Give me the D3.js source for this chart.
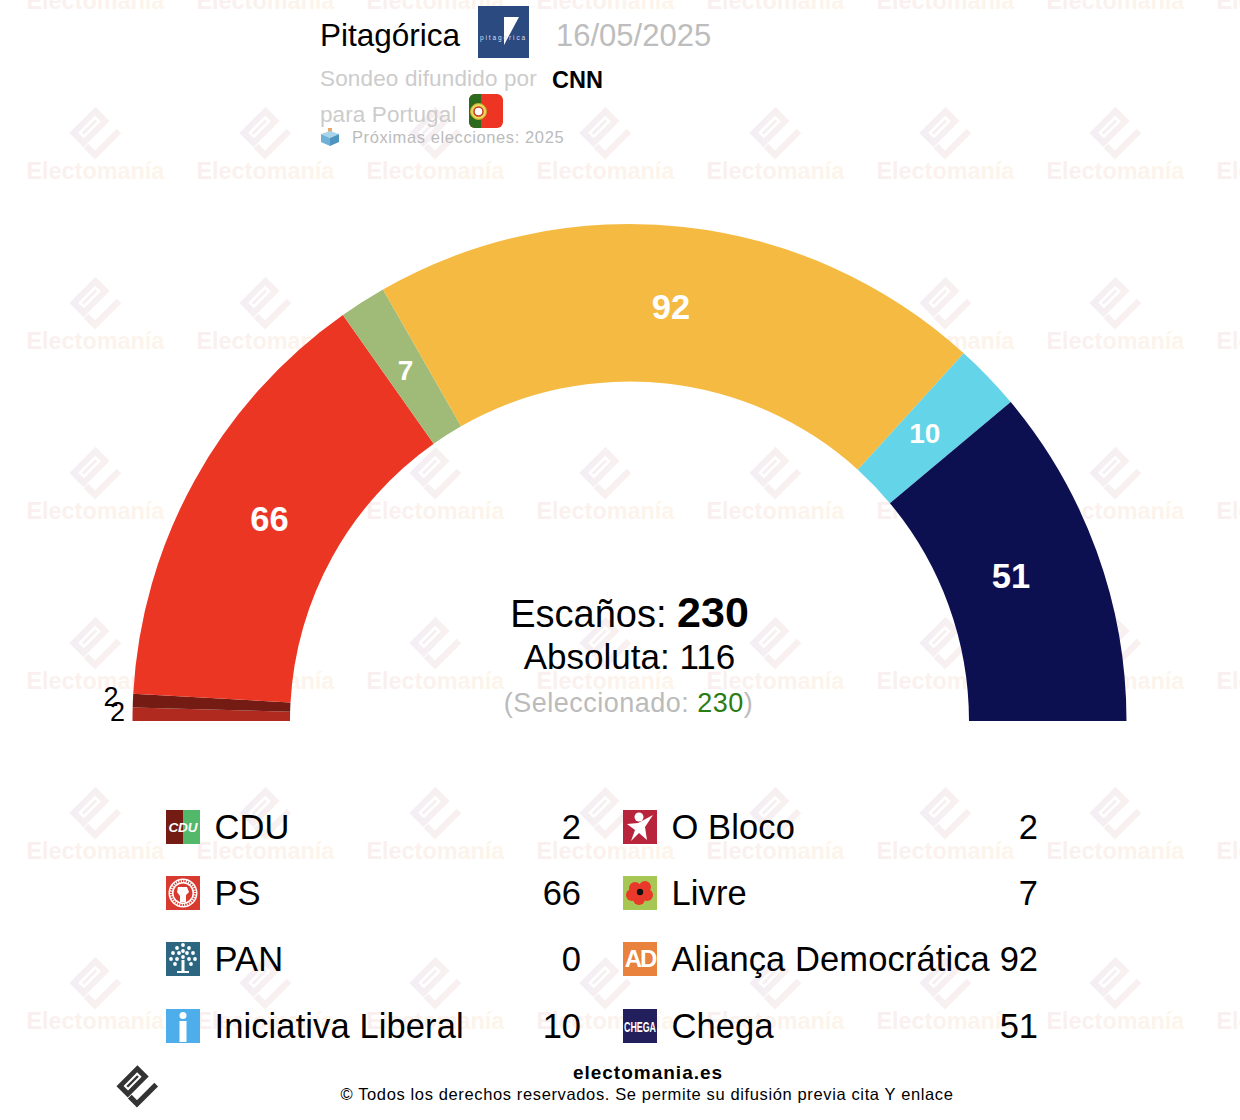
<!DOCTYPE html>
<html lang="es">
<head>
  <meta charset="UTF-8">
  <title>Pitagórica 16/05/2025</title>
  <script src="https://d3js.org/d3.v7.min.js"></script>
  <style>
    html, body { margin: 0; padding: 0; background: #fff; overflow: hidden; }
    svg { display: block; }
    text { font-family: 'Liberation Sans', Arial, sans-serif; }
  </style>
</head>
<body>
  <svg id="chart" width="1240" height="1120"></svg>

  <script>
    // arc order, from the left end of the half circle
    const arcParties = ['O Bloco', 'CDU', 'PS', 'PAN', 'Livre', 'Aliança Democrática', 'Iniciativa Liberal', 'Chega'];
    const arcSeats = [2, 2, 66, 0, 7, 92, 10, 51];
    const arcColors = ['#b02a20', '#741b14', '#ec3624', '#2c6680', '#a0ba78', '#f5ba42', '#64d4e8', '#0c0f50'];

    // legend order, two columns
    const legendLeft = ['CDU', 'PS', 'PAN', 'Iniciativa Liberal'];
    const legendRight = ['O Bloco', 'Livre', 'Aliança Democrática', 'Chega'];

    const totalSeats = 230;
    const majority = 116;
    const selected = 230;

    const svg = d3.select('#chart');
    const defs = svg.append('defs');

    const textGrad = defs.append('linearGradient').attr('id', 'wmText');
    textGrad.append('stop').attr('offset', '0%').attr('stop-color', '#f9eff0');
    textGrad.append('stop').attr('offset', '100%').attr('stop-color', '#fdf5ea');

    const logoGrad = defs.append('linearGradient').attr('id', 'wmLogo')
      .attr('gradientUnits', 'userSpaceOnUse')
      .attr('x1', -30).attr('y1', -30).attr('x2', 30).attr('y2', 30);
    logoGrad.append('stop').attr('offset', '0%').attr('stop-color', '#f0edf8');
    logoGrad.append('stop').attr('offset', '100%').attr('stop-color', '#fcf2ec');

    // electomania mark, centred on 0,0
    function drawMark(g, fill) {
      g.append('path')
        .attr('fill-rule', 'evenodd')
        .attr('fill', fill)
        .attr('transform', 'translate(-5.5,-7) rotate(-45)')
        .attr('d', 'M-18.5,-10H18.5V10H-18.5Z M-12,-4V4H12V-4Z M-9.5,-1.5H9.5V1.5H-9.5Z');
      g.append('path')
        .attr('fill', 'none')
        .attr('stroke', fill)
        .attr('stroke-width', 6.5)
        .attr('d', 'M-9,12 L0,21 L24,-3');
    }

    // watermark tiles
    const wm = svg.append('g');
    d3.range(95, 1300, 170).forEach(cx => {
      d3.range(-36, 1120, 170).forEach(cy => {
        drawMark(wm.append('g').attr('transform', `translate(${cx},${cy})`), 'url(#wmLogo)');
        wm.append('text')
          .attr('x', cx - 68.5).attr('y', cy + 45)
          .attr('font-size', 23.4).attr('font-weight', 'bold')
          .attr('fill', 'url(#wmText)')
          .text('Electomanía');
      });
    });

    // half circle
    const cx = 629.5, cy = 721, outerR = 497, innerR = 339.5;
    const pie = d3.pie().sort(null).startAngle(-Math.PI / 2).endAngle(Math.PI / 2)
      .value(d => d.seats);
    const arc = d3.arc().innerRadius(innerR).outerRadius(outerR);
    const arcData = pie(arcParties.map((p, i) => ({ party: p, seats: arcSeats[i], color: arcColors[i] })));

    const chart = svg.append('g').attr('transform', `translate(${cx},${cy})`);
    chart.selectAll('path')
      .data(arcData)
      .enter().append('path')
      .attr('d', arc)
      .attr('fill', d => d.data.color);

    // small hand nudges for labels inside the ring
    const nudge = { 'Livre': [-2, 1], 'Iniciativa Liberal': [4, 1], 'Chega': [1, -3] };
    let smallCount = 0;
    arcData.filter(d => d.data.seats > 0).forEach(d => {
      const a = (d.startAngle + d.endAngle) / 2;
      const small = d.data.seats < 5;
      // small slices go outside the ring and get pushed apart
      const r = 512 + 7 * smallCount;
      if (small) smallCount++;
      const n = nudge[d.data.party] || [0, 0];
      chart.append('text')
        .attr('x', small ? Math.sin(a) * r : Math.sin(a) * 408 - 3 + n[0])
        .attr('y', small ? -Math.cos(a) * r - 2.5 : -Math.cos(a) * 417 + n[1])
        .attr('text-anchor', 'middle')
        .attr('dominant-baseline', 'central')
        .attr('font-size', small ? 27 : (d.data.seats <= 10 ? 28 : 34.5))
        .attr('font-weight', small ? 'normal' : 'bold')
        .attr('fill', small ? '#000' : '#fff')
        .text(d.data.seats);
    });

    // centre text
    const t1 = svg.append('text').attr('x', 629.5).attr('y', 627).attr('text-anchor', 'middle').attr('font-size', 38);
    t1.append('tspan').text('Escaños: ');
    t1.append('tspan').attr('font-weight', 'bold').attr('font-size', 43).text(totalSeats);
    svg.append('text').attr('x', 629.5).attr('y', 669).attr('text-anchor', 'middle').attr('font-size', 35)
      .text(`Absoluta: ${majority}`);
    const t3 = svg.append('text').attr('x', 628.5).attr('y', 712).attr('text-anchor', 'middle').attr('font-size', 27)
      .attr('letter-spacing', 0.5).attr('fill', '#bbb');
    t3.append('tspan').text('(Seleccionado: ');
    t3.append('tspan').attr('fill', '#2a7d12').text(selected);
    t3.append('tspan').text(')');

    // header
    function label(x, y, size, color, str, weight, spacing) {
      return svg.append('text').attr('x', x).attr('y', y).attr('font-size', size)
        .attr('letter-spacing', spacing || 0)
        .attr('fill', color).attr('font-weight', weight || 'normal').text(str);
    }
    label(320, 46, 31.5, '#000', 'Pitagórica');
    label(556, 46, 31, '#bdbdbd', '16/05/2025');
    label(320, 86, 22.5, '#cccccc', 'Sondeo difundido por', 'normal', 0.15);
    label(552, 88, 23.5, '#000', 'CNN', 'bold');
    label(320, 122, 22.5, '#cccccc', 'para Portugal', 'normal', 0.1);
    label(352, 143, 16.5, '#bbbbbb', 'Próximas elecciones: 2025', 'normal', 0.6);

    // pollster logo
    const pl = svg.append('g').attr('transform', 'translate(478,6)');
    pl.append('rect').attr('width', 51).attr('height', 52).attr('fill', '#2a4a80');
    pl.append('path').attr('fill', '#fff').attr('d', 'M26,11H41L26,39Z');
    pl.append('text').attr('x', 25.5).attr('y', 34).attr('text-anchor', 'middle')
      .attr('font-size', 6.5).attr('letter-spacing', 1.9).attr('fill', '#dde').attr('font-family', 'Liberation Serif').text('pitagórica');

    // flag
    defs.append('clipPath').attr('id', 'flagClip').append('rect')
      .attr('x', 469).attr('y', 94).attr('width', 34).attr('height', 34).attr('rx', 6);
    const flag = svg.append('g').attr('clip-path', 'url(#flagClip)');
    flag.append('rect').attr('x', 469).attr('y', 94).attr('width', 34).attr('height', 34).attr('fill', '#ee3524');
    flag.append('rect').attr('x', 469).attr('y', 94).attr('width', 12).attr('height', 34).attr('fill', '#2c6a1e');
    flag.append('circle').attr('cx', 478.5).attr('cy', 111.5).attr('r', 8).attr('fill', '#e8d85a').attr('stroke', '#c9a92a');
    flag.append('circle').attr('cx', 478.5).attr('cy', 111.5).attr('r', 4.5).attr('fill', '#fff').attr('stroke', '#c8352a').attr('stroke-width', 1.5);

    // ballot box
    const box = svg.append('g').attr('transform', 'translate(321,128)');
    box.append('rect').attr('x', 7).attr('y', 0).attr('width', 4).attr('height', 7).attr('fill', '#e8a868');
    box.append('path').attr('fill', '#a8d4ea').attr('d', 'M0,6L9,3L18,6L9,10Z');
    box.append('path').attr('fill', '#6fb0d6').attr('d', 'M0,6L9,10V18L0,14Z');
    box.append('path').attr('fill', '#4f93bf').attr('d', 'M18,6L9,10V18L18,14Z');

    // legend icons, 34px squares
    const icons = {
      'CDU': g => {
        g.append('rect').attr('width', 17).attr('height', 34).attr('fill', '#741b14');
        g.append('rect').attr('x', 17).attr('width', 17).attr('height', 34).attr('fill', '#52b96a');
        g.append('text').attr('x', 17).attr('y', 22).attr('text-anchor', 'middle').attr('font-size', 13.5)
          .attr('font-weight', 'bold').attr('font-style', 'italic').attr('fill', '#fff').text('CDU');
      },
      'PS': g => {
        g.append('rect').attr('width', 34).attr('height', 34).attr('fill', '#d93a30');
        g.append('circle').attr('cx', 17).attr('cy', 17).attr('r', 14.5).attr('fill', '#fff');
        g.append('circle').attr('cx', 17).attr('cy', 17).attr('r', 12).attr('fill', 'none')
          .attr('stroke', '#d93a30').attr('stroke-width', 2).attr('stroke-dasharray', '1.5 1');
        g.append('circle').attr('cx', 17).attr('cy', 17).attr('r', 9.5).attr('fill', '#d93a30');
        g.append('path').attr('fill', '#fff').attr('d', 'M12,11H21L23,16L20,19V26H14V20L11,16Z');
      },
      'PAN': g => {
        g.append('rect').attr('width', 34).attr('height', 34).attr('fill', '#2c6680');
        g.append('path').attr('fill', '#fff').attr('d', 'M15.5,18H18.5V29H23V31H11V29H15.5Z');
        [[17, 3], [11, 6], [23, 6], [7, 11], [27, 11], [13, 11], [21, 11], [17, 9], [5, 17], [29, 17], [11, 17], [23, 17], [17, 15], [9, 22], [25, 22]].forEach(p => {
          g.append('circle').attr('cx', p[0]).attr('cy', p[1]).attr('r', 1.9).attr('fill', '#fff');
        });
      },
      'Iniciativa Liberal': g => {
        g.append('rect').attr('width', 34).attr('height', 34).attr('fill', '#4eaeec');
        g.append('circle').attr('cx', 17).attr('cy', 6.5).attr('r', 3.5).attr('fill', '#fff');
        g.append('rect').attr('x', 13.5).attr('y', 12).attr('width', 7).attr('height', 21).attr('fill', '#fff');
      },
      'O Bloco': g => {
        g.append('rect').attr('width', 34).attr('height', 34).attr('fill', '#b8243c');
        g.append('circle').attr('cx', 16).attr('cy', 7).attr('r', 4.5).attr('fill', '#fff');
        g.append('path').attr('fill', '#fff').attr('d', 'M4,14L15,13L30,5L22,17L24,30L16,23L8,31L12,20Z');
      },
      'Livre': g => {
        g.append('rect').attr('width', 34).attr('height', 34).attr('fill', '#a6c754');
        [[12, 12], [22, 11], [24, 19], [16, 23], [9, 19]].forEach(p => {
          g.append('circle').attr('cx', p[0]).attr('cy', p[1]).attr('r', 6).attr('fill', '#e8392a');
        });
        g.append('circle').attr('cx', 17).attr('cy', 16).attr('r', 3.2).attr('fill', '#111');
      },
      'Aliança Democrática': g => {
        g.append('rect').attr('width', 34).attr('height', 34).attr('fill', '#e8823c');
        g.append('text').attr('x', 17).attr('y', 25).attr('text-anchor', 'middle').attr('font-size', 24)
          .attr('font-weight', 'bold').attr('letter-spacing', -2).attr('fill', '#fff').text('AD');
      },
      'Chega': g => {
        g.append('rect').attr('width', 34).attr('height', 34).attr('fill', '#221f5c');
        g.append('text').attr('x', 17).attr('y', 22.5).attr('text-anchor', 'middle').attr('font-size', 14)
          .attr('font-weight', 'bold').attr('fill', '#fff').attr('textLength', 32).attr('lengthAdjust', 'spacingAndGlyphs').text('CHEGA');
      }
    };

    // legend
    const rowY = d3.scaleLinear().domain([0, 3]).range([827, 1026]);
    function drawLegend(names, iconX, valueX) {
      names.forEach((name, i) => {
        const y = Math.floor(rowY(i));
        icons[name](svg.append('g').attr('transform', `translate(${iconX},${y - 17})`));
        svg.append('text').attr('x', iconX + 48.5).attr('y', y + 12).attr('font-size', 34.5)
          .attr('letter-spacing', 0.1).text(name);
        svg.append('text').attr('x', valueX).attr('y', y + 12).attr('text-anchor', 'end').attr('font-size', 34.5)
          .text(arcSeats[arcParties.indexOf(name)]);
      });
    }
    drawLegend(legendLeft, 166, 581);
    drawLegend(legendRight, 623, 1038);

    // footer
    drawMark(svg.append('g').attr('transform', 'translate(137,1087) scale(0.8)'), '#333');
    svg.append('text').attr('x', 648).attr('y', 1079).attr('text-anchor', 'middle')
      .attr('font-size', 19).attr('font-weight', 'bold').attr('letter-spacing', 1).text('electomania.es');
    svg.append('text').attr('x', 647).attr('y', 1100).attr('text-anchor', 'middle')
      .attr('font-size', 16.5).attr('letter-spacing', 0.63).text('© Todos los derechos reservados. Se permite su difusión previa cita Y enlace');
  </script>
</body>
</html>
